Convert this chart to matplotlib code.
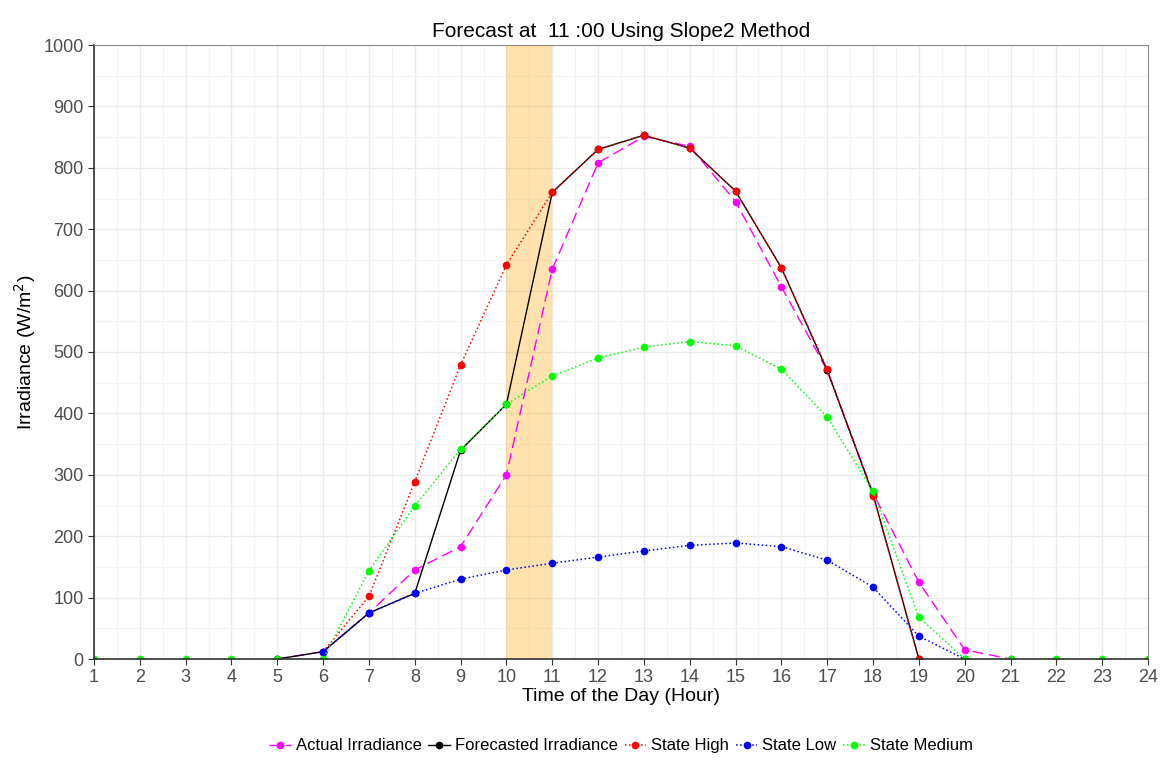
import matplotlib.pyplot as plt
from matplotlib.ticker import MultipleLocator

plt.rcParams['font.family'] = ['Liberation Sans', 'DejaVu Sans']

# hours and values
actual_hours = list(range(5, 22))
actual = [0, 12, 75, 145, 183, 300, 635, 808, 851, 835, 745, 606, 470, 270, 125, 15, 0]

forecast_hours = list(range(5, 20))
forecast = [0, 12, 75, 107, 340, 415, 760, 830, 853, 832, 762, 637, 470, 268, 0]

high_hours = list(range(6, 20))
high = [12, 102, 289, 479, 642, 760, 830, 853, 832, 762, 637, 472, 266, 0]

low_hours = list(range(6, 21))
low = [12, 75, 107, 130, 145, 156, 166, 176, 185, 189, 183, 161, 117, 37, 0]

medium_hours = list(range(1, 25))
medium = [0, 0, 0, 0, 0, 0, 144, 249, 342, 415, 461, 490, 508, 517, 510, 472,
          394, 273, 68, 0, 0, 0, 0, 0]

forecast_start, forecast_end = 10, 11

fig = plt.figure(figsize=(11.6, 7.61), dpi=100)
ax = fig.add_axes([94/1160, 1-659/761, (1148-94)/1160, (659-45)/761])

ax.axvspan(forecast_start, forecast_end, color='#FFA500', alpha=0.32, lw=0, zorder=0.8)

ax.plot(actual_hours, actual, color='#FF00FF', linestyle=(0, (8, 4)), lw=1,
        marker='o', ms=4.5, label='Actual Irradiance')
ax.plot(forecast_hours, forecast, color='black', lw=1,
        marker='o', ms=4.5, label='Forecasted Irradiance')
ax.plot(high_hours, high, color='#FF0000', linestyle=':', lw=1.1,
        marker='o', ms=4.5, label='State High')
ax.plot(low_hours, low, color='#0000FF', linestyle=':', lw=1.1,
        marker='o', ms=4.5, label='State Low')
ax.plot(medium_hours, medium, color='#00FF00', linestyle=':', lw=1.1,
        marker='o', ms=4.5, label='State Medium')

ax.set_xlim(1, 24)
ax.set_ylim(0, 1000)
ax.set_xticks(range(1, 25))
ax.set_yticks(range(0, 1001, 100))
ax.xaxis.set_minor_locator(MultipleLocator(0.5))
ax.yaxis.set_minor_locator(MultipleLocator(50))
ax.grid(which='major', color='#EBEBEB', lw=1)
ax.grid(which='minor', color='#F4F4F4', lw=0.8)
ax.set_axisbelow(True)

for side in ['top', 'right']:
    ax.spines[side].set_color('#8C8C8C')
for side in ['left', 'bottom']:
    ax.spines[side].set_color('#333333')
    ax.spines[side].set_linewidth(1.2)
ax.tick_params(which='major', labelsize=13, labelcolor='#4D4D4D', color='#333333', length=4)
ax.tick_params(which='minor', length=0)

ax.set_title('Forecast at  11 :00 Using Slope2 Method', fontsize=15, pad=6)
ax.set_xlabel('Time of the Day (Hour)', fontsize=14, labelpad=1)
ax.set_ylabel('Irradiance (W/m$^2$)', fontsize=14)

ax.legend(loc='upper center', bbox_to_anchor=(0.5, -0.105), ncol=5, frameon=False,
          fontsize=12, handlelength=1.3, handletextpad=0.3, columnspacing=0.4)

plt.savefig('out.png')
